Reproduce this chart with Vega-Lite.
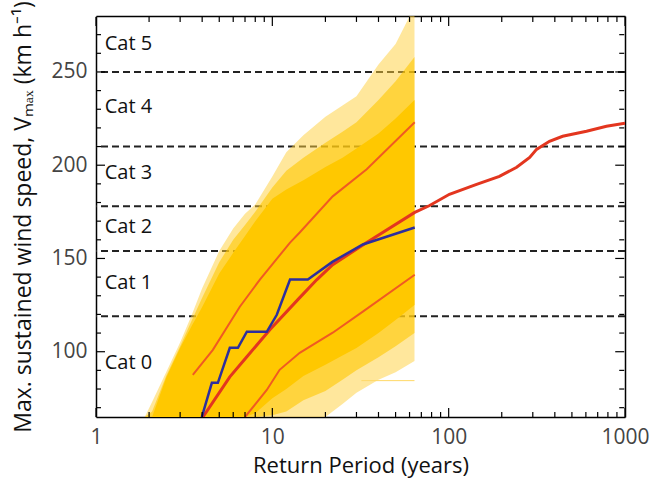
{
  "$schema": "https://vega.github.io/schema/vega-lite/v6.json",
  "width": 529,
  "height": 401,
  "autosize": "none",
  "padding": {"left": 96, "top": 16, "right": 27, "bottom": 66},
  "background": "white",
  "config": {
    "view": {"stroke": null},
    "font": "Open Sans",
    "axis": {"grid": false, "zindex": 1, "domainColor": "#000", "domainWidth": 1.5, "labelOverlap": false, "labelFlush": false}
  },
  "datasets": {
    "band": [
      {"T": 1.89, "olo": 65, "ohi": 65, "mlo": 65, "mhi": 65, "clo": 65, "chi": 65},
      {"T": 2.08, "olo": 65, "ohi": 73, "mlo": 65, "mhi": 68, "clo": 65, "chi": 65},
      {"T": 2.5, "olo": 65, "ohi": 89, "mlo": 65, "mhi": 87, "clo": 65, "chi": 86},
      {"T": 3, "olo": 65, "ohi": 105, "mlo": 65, "mhi": 103, "clo": 65, "chi": 102},
      {"T": 3.5, "olo": 65, "ohi": 120, "mlo": 65, "mhi": 117, "clo": 65, "chi": 114},
      {"T": 4, "olo": 65, "ohi": 134, "mlo": 65, "mhi": 129, "clo": 65, "chi": 124},
      {"T": 5, "olo": 65, "ohi": 154, "mlo": 65, "mhi": 148, "clo": 65, "chi": 142},
      {"T": 6, "olo": 65, "ohi": 166, "mlo": 65, "mhi": 160, "clo": 65, "chi": 153},
      {"T": 7, "olo": 65, "ohi": 174, "mlo": 65, "mhi": 168, "clo": 65, "chi": 162},
      {"T": 8, "olo": 65, "ohi": 179, "mlo": 65, "mhi": 175, "clo": 67, "chi": 170},
      {"T": 10, "olo": 65, "ohi": 194, "mlo": 66, "mhi": 188, "clo": 75, "chi": 182},
      {"T": 12, "olo": 65, "ohi": 207, "mlo": 68, "mhi": 197, "clo": 80, "chi": 187},
      {"T": 15, "olo": 65, "ohi": 216, "mlo": 74, "mhi": 204, "clo": 87, "chi": 192},
      {"T": 20, "olo": 65, "ohi": 226, "mlo": 79, "mhi": 212, "clo": 93, "chi": 199},
      {"T": 25, "olo": 72, "ohi": 232, "mlo": 85, "mhi": 218, "clo": 98, "chi": 204},
      {"T": 30, "olo": 78, "ohi": 237, "mlo": 90, "mhi": 223, "clo": 102, "chi": 209},
      {"T": 40, "olo": 85, "ohi": 254, "mlo": 97, "mhi": 235, "clo": 110, "chi": 217},
      {"T": 50, "olo": 89, "ohi": 265, "mlo": 103, "mhi": 245, "clo": 117, "chi": 225},
      {"T": 64, "olo": 95, "ohi": 285, "mlo": 110, "mhi": 258, "clo": 125, "chi": 235}
    ],
    "lone": [
      {"T": 32, "V": 84.5},
      {"T": 64, "V": 84.5}
    ],
    "upper": [
      {"T": 3.54, "V": 87.6}, {"T": 4.6, "V": 101}, {"T": 6.54, "V": 124.1},
      {"T": 8.5, "V": 138.7}, {"T": 12.6, "V": 158.5}, {"T": 14.3, "V": 163.9},
      {"T": 22, "V": 183.3}, {"T": 34.3, "V": 197.8}, {"T": 64.2, "V": 223}
    ],
    "lower": [
      {"T": 7.0, "V": 65}, {"T": 9.3, "V": 79.5}, {"T": 11, "V": 90.3},
      {"T": 14.3, "V": 99.4}, {"T": 22, "V": 110.2}, {"T": 32.6, "V": 121.5},
      {"T": 64.2, "V": 141.3}
    ],
    "median": [
      {"T": 4.04, "V": 65}, {"T": 5.74, "V": 86.5}, {"T": 7.17, "V": 97.3},
      {"T": 9.68, "V": 111.8}, {"T": 14.3, "V": 129}, {"T": 17.9, "V": 138.7},
      {"T": 22, "V": 146.7}, {"T": 34.3, "V": 158.5}, {"T": 64.2, "V": 174.7},
      {"T": 78, "V": 178.4}, {"T": 101, "V": 184.4}, {"T": 144, "V": 189.7},
      {"T": 194, "V": 194}, {"T": 243, "V": 198.9}, {"T": 288, "V": 204.2},
      {"T": 315, "V": 208.5}, {"T": 373, "V": 212.8}, {"T": 443, "V": 215.5},
      {"T": 605, "V": 218.2}, {"T": 785, "V": 220.9}, {"T": 1000, "V": 222.5}
    ],
    "obs": [
      {"T": 3.98, "V": 65}, {"T": 4.54, "V": 83.3}, {"T": 4.91, "V": 83.3},
      {"T": 5.74, "V": 102.1}, {"T": 6.38, "V": 102.1}, {"T": 7.17, "V": 110.7},
      {"T": 9.3, "V": 110.7}, {"T": 10.6, "V": 119.8}, {"T": 12.6, "V": 138.7},
      {"T": 15.9, "V": 138.7}, {"T": 22, "V": 148.3}, {"T": 32.6, "V": 157.5},
      {"T": 64.2, "V": 166.6}
    ],
    "cats": [{"v": 119}, {"v": 154}, {"v": 178}, {"v": 210}, {"v": 250}],
    "labels": [
      {"T": 1.12, "V": 265, "t": "Cat 5"},
      {"T": 1.12, "V": 231, "t": "Cat 4"},
      {"T": 1.12, "V": 196, "t": "Cat 3"},
      {"T": 1.12, "V": 167, "t": "Cat 2"},
      {"T": 1.12, "V": 137, "t": "Cat 1"},
      {"T": 1.12, "V": 94, "t": "Cat 0"}
    ],
    "xticks": [
      {"T": 1, "major": 1}, {"T": 2, "major": 0}, {"T": 3, "major": 0}, {"T": 4, "major": 0},
      {"T": 5, "major": 0}, {"T": 6, "major": 0}, {"T": 7, "major": 0}, {"T": 8, "major": 0},
      {"T": 9, "major": 0}, {"T": 10, "major": 1}, {"T": 20, "major": 0}, {"T": 30, "major": 0},
      {"T": 40, "major": 0}, {"T": 50, "major": 0}, {"T": 60, "major": 0}, {"T": 70, "major": 0},
      {"T": 80, "major": 0}, {"T": 90, "major": 0}, {"T": 100, "major": 1}, {"T": 200, "major": 0},
      {"T": 300, "major": 0}, {"T": 400, "major": 0}, {"T": 500, "major": 0}, {"T": 600, "major": 0},
      {"T": 700, "major": 0}, {"T": 800, "major": 0}, {"T": 900, "major": 0}, {"T": 1000, "major": 1}
    ],
    "yticks": [
      {"V": 70, "major": 0}, {"V": 80, "major": 0}, {"V": 90, "major": 0}, {"V": 100, "major": 1},
      {"V": 110, "major": 0}, {"V": 120, "major": 0}, {"V": 130, "major": 0}, {"V": 140, "major": 0},
      {"V": 150, "major": 1}, {"V": 160, "major": 0}, {"V": 170, "major": 0}, {"V": 180, "major": 0},
      {"V": 190, "major": 0}, {"V": 200, "major": 1}, {"V": 210, "major": 0}, {"V": 220, "major": 0},
      {"V": 230, "major": 0}, {"V": 240, "major": 0}, {"V": 250, "major": 1}, {"V": 260, "major": 0},
      {"V": 270, "major": 0}
    ]
  },
  "layer": [
    {
      "data": {"name": "cats"},
      "mark": {"type": "rule", "color": "#222222", "strokeWidth": 2, "strokeDash": [7, 4], "clip": true},
      "encoding": {
        "y": {"field": "v", "type": "quantitative", "axis": null,
              "scale": {"domain": [65, 280], "nice": false, "zero": false}}
      }
    },
    {
      "data": {"name": "band"},
      "mark": {"type": "area", "color": "#FFD03A", "opacity": 0.5, "clip": true},
      "encoding": {
        "x": {"field": "T", "type": "quantitative",
              "scale": {"type": "log", "domain": [1, 1000], "nice": false},
              "axis": {
                "orient": "bottom", "ticks": false,
                "values": [1, 10, 100, 1000], "format": "d",
                "labelFontSize": 21, "labelColor": "#444444", "labelPadding": 9,
                "title": "Return Period (years)", "titleFontSize": 22, "titleFontWeight": "normal",
                "titleColor": "#111111", "titlePadding": 8
              }},
        "y": {"field": "ohi", "type": "quantitative",
              "scale": {"domain": [65, 280], "nice": false, "zero": false},
              "axis": {
                "orient": "left", "ticks": false,
                "values": [100, 150, 200, 250],
                "labelFontSize": 21, "labelColor": "#444444", "labelPadding": 9,
                "title": "Max. sustained wind speed, Vₘₐₓ (km h⁻¹)", "titleFontSize": 23,
                "titleFontWeight": "normal", "titleColor": "#111111", "titlePadding": 15
              }},
        "y2": {"field": "olo"}
      }
    },
    {
      "data": {"name": "band"},
      "mark": {"type": "area", "color": "#FFC800", "opacity": 0.6, "clip": true},
      "encoding": {
        "x": {"field": "T", "type": "quantitative",
              "axis": {"orient": "top", "ticks": false, "labels": false, "title": null, "values": [1, 10, 100, 1000]}},
        "y": {"field": "mhi", "type": "quantitative",
              "axis": {"orient": "right", "ticks": false, "labels": false, "title": null, "values": [100, 150, 200, 250]}},
        "y2": {"field": "mlo"}
      }
    },
    {
      "data": {"name": "band"},
      "mark": {"type": "area", "color": "#FFC800", "opacity": 1, "clip": true},
      "encoding": {
        "x": {"field": "T", "type": "quantitative", "axis": null},
        "y": {"field": "chi", "type": "quantitative", "axis": null},
        "y2": {"field": "clo"}
      }
    },
    {
      "data": {"name": "lone"},
      "mark": {"type": "line", "color": "#FFD966", "strokeWidth": 1, "clip": true},
      "encoding": {
        "x": {"field": "T", "type": "quantitative", "axis": null},
        "y": {"field": "V", "type": "quantitative", "axis": null}
      }
    },
    {
      "data": {"name": "upper"},
      "mark": {"type": "line", "color": "#F05A22", "strokeWidth": 2, "clip": true},
      "encoding": {
        "x": {"field": "T", "type": "quantitative", "axis": null},
        "y": {"field": "V", "type": "quantitative", "axis": null}
      }
    },
    {
      "data": {"name": "lower"},
      "mark": {"type": "line", "color": "#F05A22", "strokeWidth": 2, "clip": true},
      "encoding": {
        "x": {"field": "T", "type": "quantitative", "axis": null},
        "y": {"field": "V", "type": "quantitative", "axis": null}
      }
    },
    {
      "data": {"name": "median"},
      "mark": {"type": "line", "color": "#E3361F", "strokeWidth": 3, "clip": true},
      "encoding": {
        "x": {"field": "T", "type": "quantitative", "axis": null},
        "y": {"field": "V", "type": "quantitative", "axis": null}
      }
    },
    {
      "data": {"name": "obs"},
      "mark": {"type": "line", "color": "#2E2E9E", "strokeWidth": 2.5, "clip": true},
      "encoding": {
        "x": {"field": "T", "type": "quantitative", "axis": null},
        "y": {"field": "V", "type": "quantitative", "axis": null}
      }
    },
    {
      "data": {"name": "labels"},
      "mark": {"type": "text", "align": "left", "baseline": "middle", "fontSize": 20, "color": "#111111", "font": "Open Sans"},
      "encoding": {
        "x": {"field": "T", "type": "quantitative", "axis": null},
        "y": {"field": "V", "type": "quantitative", "axis": null},
        "text": {"field": "t"}
      }
    },
    {
      "data": {"name": "xticks"},
      "transform": [{"filter": "datum.major == 1"}],
      "mark": {"type": "tick", "orient": "vertical", "color": "#000", "thickness": 1.2, "opacity": 1, "size": 9, "yOffset": -4.5},
      "encoding": {
        "x": {"field": "T", "type": "quantitative", "axis": null},
        "y": {"datum": 65, "type": "quantitative", "axis": null}
      }
    },
    {
      "data": {"name": "xticks"},
      "transform": [{"filter": "datum.major == 0"}],
      "mark": {"type": "tick", "orient": "vertical", "color": "#000", "thickness": 1.2, "opacity": 1, "size": 5, "yOffset": -2.5},
      "encoding": {
        "x": {"field": "T", "type": "quantitative", "axis": null},
        "y": {"datum": 65, "type": "quantitative", "axis": null}
      }
    },
    {
      "data": {"name": "xticks"},
      "transform": [{"filter": "datum.major == 1"}],
      "mark": {"type": "tick", "orient": "vertical", "color": "#000", "thickness": 1.2, "opacity": 1, "size": 9, "yOffset": 4.5},
      "encoding": {
        "x": {"field": "T", "type": "quantitative", "axis": null},
        "y": {"datum": 279.5, "type": "quantitative", "axis": null}
      }
    },
    {
      "data": {"name": "xticks"},
      "transform": [{"filter": "datum.major == 0"}],
      "mark": {"type": "tick", "orient": "vertical", "color": "#000", "thickness": 1.2, "opacity": 1, "size": 5, "yOffset": 2.5},
      "encoding": {
        "x": {"field": "T", "type": "quantitative", "axis": null},
        "y": {"datum": 279.5, "type": "quantitative", "axis": null}
      }
    },
    {
      "data": {"name": "yticks"},
      "transform": [{"filter": "datum.major == 1"}],
      "mark": {"type": "tick", "orient": "horizontal", "color": "#000", "thickness": 1.2, "opacity": 1, "size": 9, "xOffset": 4.5},
      "encoding": {
        "y": {"field": "V", "type": "quantitative", "axis": null},
        "x": {"datum": 1, "type": "quantitative", "axis": null}
      }
    },
    {
      "data": {"name": "yticks"},
      "transform": [{"filter": "datum.major == 0"}],
      "mark": {"type": "tick", "orient": "horizontal", "color": "#000", "thickness": 1.2, "opacity": 1, "size": 5, "xOffset": 2.5},
      "encoding": {
        "y": {"field": "V", "type": "quantitative", "axis": null},
        "x": {"datum": 1, "type": "quantitative", "axis": null}
      }
    },
    {
      "data": {"name": "yticks"},
      "transform": [{"filter": "datum.major == 1"}],
      "mark": {"type": "tick", "orient": "horizontal", "color": "#000", "thickness": 1.2, "opacity": 1, "size": 9, "xOffset": -4.5},
      "encoding": {
        "y": {"field": "V", "type": "quantitative", "axis": null},
        "x": {"datum": 990, "type": "quantitative", "axis": null}
      }
    },
    {
      "data": {"name": "yticks"},
      "transform": [{"filter": "datum.major == 0"}],
      "mark": {"type": "tick", "orient": "horizontal", "color": "#000", "thickness": 1.2, "opacity": 1, "size": 5, "xOffset": -2.5},
      "encoding": {
        "y": {"field": "V", "type": "quantitative", "axis": null},
        "x": {"datum": 990, "type": "quantitative", "axis": null}
      }
    }
  ],
  "resolve": {"axis": {"x": "independent", "y": "independent"}}
}
